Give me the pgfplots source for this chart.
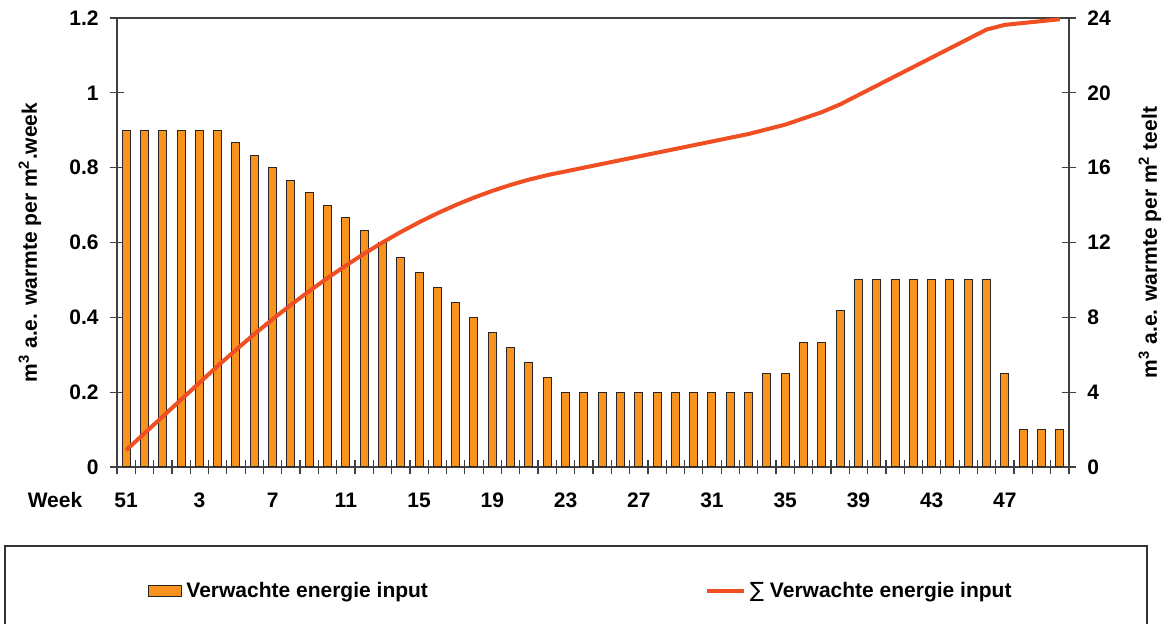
\documentclass[border=0pt]{standalone}
\usepackage{fontspec}
\setmainfont{Liberation Sans}
\newfontfamily\symfont{DejaVu Sans}
\usepackage{pgfplots}
\pgfplotsset{compat=1.18}
\usepackage{pgfplotstable}

\definecolor{barfill}{RGB}{247,147,30}
\definecolor{linecol}{RGB}{240,78,35}

\pgfplotstableread{
idx val cum
0 0.9 0.9
1 0.9 1.8
2 0.9 2.7
3 0.9 3.6
4 0.9 4.5
5 0.9 5.4
6 0.867 6.267
7 0.833 7.1
8 0.8 7.9
9 0.767 8.667
10 0.733 9.4
11 0.7 10.1
12 0.667 10.767
13 0.633 11.4
14 0.6 12.0
15 0.56 12.56
16 0.52 13.08
17 0.48 13.56
18 0.44 14.0
19 0.4 14.4
20 0.36 14.76
21 0.32 15.08
22 0.28 15.36
23 0.24 15.6
24 0.2 15.8
25 0.2 16.0
26 0.2 16.2
27 0.2 16.4
28 0.2 16.6
29 0.2 16.8
30 0.2 17.0
31 0.2 17.2
32 0.2 17.4
33 0.2 17.6
34 0.2 17.8
35 0.25 18.05
36 0.25 18.3
37 0.333 18.633
38 0.333 18.967
39 0.417 19.383
40 0.5 19.883
41 0.5 20.383
42 0.5 20.883
43 0.5 21.383
44 0.5 21.883
45 0.5 22.383
46 0.5 22.883
47 0.5 23.383
48 0.25 23.633
49 0.1 23.733
50 0.1 23.833
51 0.1 23.933
}\datatable

\begin{document}
\begin{tikzpicture}
\pgfplotsset{
  common/.style={
    at={(0,0)}, anchor=south west,
    scale only axis, width=476pt, height=224.5pt,
    xmin=-0.5, xmax=51.5,
    font=\bfseries\fontsize{10.5}{12.5}\selectfont,
    /pgf/number format/assume math mode=true,
    tick align=center,
    major tick length=7pt, minor tick length=7pt,
    axis line style={black!75, line width=0.6pt},
    tick style={black!75, line width=0.6pt},
    clip=false,
  }
}
\begin{axis}[common,
  ymin=0, ymax=1.2,
  ytick={0,0.2,0.4,0.6,0.8,1,1.2},
  yticklabels={0,0.2,0.4,0.6,0.8,1,1.2},
  ytick pos=left, xtick pos=bottom,
  xtick={0,4,8,12,16,20,24,28,32,36,40,44,48},
  xticklabels={51,3,7,11,15,19,23,27,31,35,39,43,47},
  minor xtick={-0.5,0.5,...,51.5},
  major x tick style={draw=none},
  xticklabel style={yshift=-6pt},
  yticklabel style={xshift=-2.2pt},
  ylabel={m\textsuperscript{3} a.e. warmte per m\textsuperscript{2}.week},
  ylabel style={at={(axis description cs:-0.0914,0.5)}, anchor=center},
]
\addplot[ybar, bar width=4pt, fill=barfill, draw=black!85, line width=0.5pt] table[x=idx,y=val]{\datatable};
\end{axis}
\begin{axis}[common,
  ymin=0, ymax=24,
  axis x line=none, axis y line*=right,
  ytick={0,4,8,12,16,20,24},
  yticklabel style={xshift=2.2pt},
  ylabel={m\textsuperscript{3} a.e. warmte per m\textsuperscript{2} teelt},
  ylabel style={at={(axis description cs:1.085,0.5)}, anchor=center},
  legend columns=2,
  legend style={at={(axis description cs:0.0326,-0.276)}, anchor=west, draw=none, fill=none, inner sep=0pt,
    font=\bfseries\fontsize{10.5}{12.5}\selectfont,
    /tikz/every even column/.append style={column sep=136.5pt}},
]
\addlegendimage{legend image code/.code={\draw[fill=barfill,draw=black!85,line width=0.5pt] (0pt,-2.75pt) rectangle (16.5pt,2.75pt);}}
\addlegendentry{Verwachte energie input}
\addplot[linecol, line width=2pt, legend image code/.code={\draw[linecol,line width=2pt] (0pt,0pt) -- (18.5pt,0pt);}] table[x=idx,y=cum]{\datatable};
\addlegendentry{{\symfont\mdseries ∑} Verwachte energie input}
\end{axis}
\node[font=\bfseries\fontsize{10.5}{12.5}\selectfont] at (-31pt,-16.5pt) {Week};
\draw[black!80, line width=0.6pt] (-56pt,-81.5pt) -- (-56pt,-39.5pt) -- (515pt,-39.5pt) -- (515pt,-81.5pt);
\pgfresetboundingbox
\path[use as bounding box] (-58.5pt,-78.5pt) rectangle (523.5pt,233.5pt);
\end{tikzpicture}
\end{document}
